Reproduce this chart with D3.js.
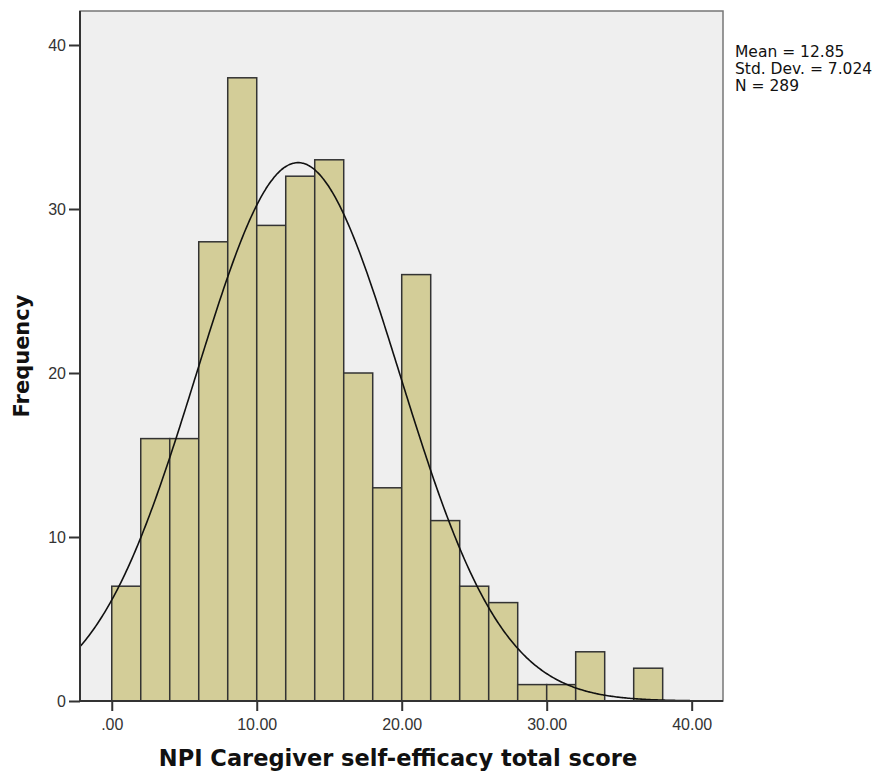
<!DOCTYPE html>
<html><head><meta charset="utf-8">
<script src="https://cdn.jsdelivr.net/npm/d3@7/dist/d3.min.js"></script>
<style>body{margin:0;background:#fff;}svg{display:block;font-family:"Lucida Grande","DejaVu Sans",sans-serif;}</style>
</head><body>
<svg id="c" width="882" height="777"></svg>
<script>
const binStarts = [0,2,4,6,8,10,12,14,16,18,20,22,24,26,28,30,32,34,36];
const counts    = [7,16,16,28,38,29,32,33,20,13,26,11,7,6,1,1,3,0,2];
const binWidth = 2;
const xTicks = [0,10,20,30,40];
const xTickLabels = [".00","10.00","20.00","30.00","40.00"];
const yTicks = [0,10,20,30,40];
const stats = {mean:12.85, sd:7.024, n:289};
const statLines = ["Mean = 12.85","Std. Dev. = 7.024","N = 289"];

const svg = d3.select("#c");
const L=80, R=723, T=11, B=701;
const x = d3.scaleLinear().domain([-2.19,42.16]).range([L,R]);
const y = d3.scaleLinear().domain([0,40]).range([B,45]);

svg.append("rect").attr("x",L).attr("y",T).attr("width",R-L).attr("height",B-T)
  .attr("fill","#efefef").attr("stroke","#777").attr("stroke-width",1.5);

svg.append("g").selectAll("rect").data(binStarts).join("rect")
  .attr("x",d=>x(d)).attr("width",d=>x(d+binWidth)-x(d))
  .attr("y",(d,i)=>y(counts[i])).attr("height",(d,i)=>B-y(counts[i]))
  .attr("fill","#d3cd98").attr("stroke","#333").attr("stroke-width",1.5);

// normal curve
const k = stats.n*binWidth/(stats.sd*Math.sqrt(2*Math.PI));
const pts = d3.range(x.domain()[0], x.domain()[1]+0.01, 0.1).map(v=>[v, k*Math.exp(-0.5*Math.pow((v-stats.mean)/stats.sd,2))]);
svg.append("path").datum(pts).attr("fill","none").attr("stroke","#111").attr("stroke-width",1.6)
  .attr("d", d3.line().x(d=>x(d[0])).y(d=>y(d[1])).curve(d3.curveBasis));

// axes
const yAxis = d3.axisLeft(y).tickValues(yTicks).tickSize(11).tickPadding(3);
const gy = svg.append("g").attr("transform",`translate(${L},0)`).call(yAxis);
gy.select(".domain").attr("stroke","#333").attr("stroke-width",2).attr("d",`M0,${T}V${B}`);
gy.selectAll(".tick line").attr("stroke","#333").attr("stroke-width",2);
gy.selectAll("text").attr("font-size",16).attr("fill","#333");

const xAxis = d3.axisBottom(x).tickValues(xTicks).tickFormat((d,i)=>xTickLabels[i]).tickSize(10).tickPadding(8);
const gx = svg.append("g").attr("transform",`translate(0,${B})`).call(xAxis);
gx.select(".domain").attr("stroke","#333").attr("stroke-width",2).attr("d",`M${L},0H${R}`);
gx.selectAll(".tick line").attr("stroke","#333").attr("stroke-width",2);
gx.selectAll("text").attr("font-size",16).attr("fill","#333");

svg.append("text").attr("x",398).attr("y",766).attr("text-anchor","middle")
  .attr("font-size",22.5).attr("font-weight","bold").attr("fill","#111").text("NPI Caregiver self-efficacy total score");
svg.append("text").attr("transform","translate(29,356) rotate(-90)").attr("text-anchor","middle")
  .attr("font-size",21).attr("font-weight","bold").attr("fill","#111").text("Frequency");

svg.append("g").selectAll("text").data(statLines).join("text")
  .attr("x",735).attr("y",(d,i)=>57+i*17).attr("font-size",15.5).attr("fill","#111").text(d=>d);
</script>
</body></html>
